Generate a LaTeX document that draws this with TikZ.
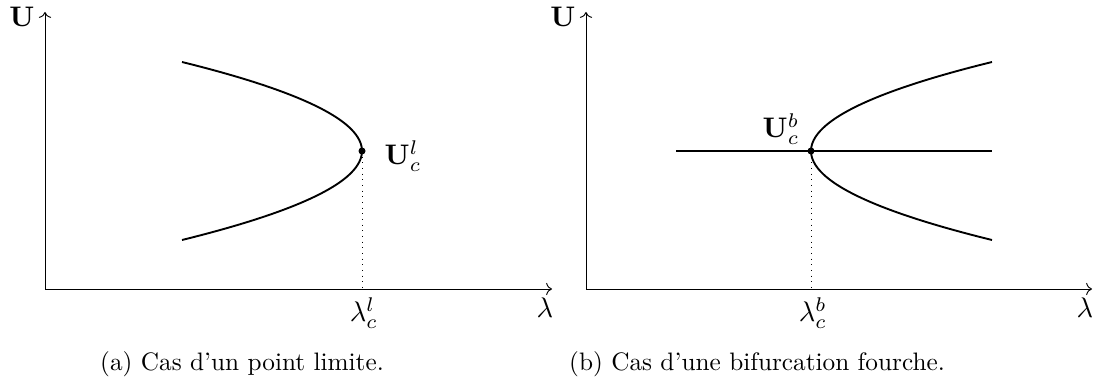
\documentclass[tikz,border=0pt]{standalone}
\usepackage{tikz}
\usetikzlibrary{arrows.meta}

\begin{document}
\begin{tikzpicture}[x=0.4237pt, y=-0.4237pt,
  lbl/.style={inner sep=0pt, scale=1.2},
  captxt/.style={inner sep=0pt, scale=1.07},
  branch/.style={line width=0.8pt}]
\path[use as bounding box] (0,0) rectangle (1101,387);
% (a) point limite
\coordinate (oa) at (45,289);
\coordinate (ya) at (45,12);
\coordinate (xa) at (552,289);
\coordinate (ca) at (362,289);
\coordinate (pta) at (362,151);
\draw[->] (oa) -- (ya);
\draw[->] (oa) -- (xa);
\node[lbl] (ua) at (22,17) {$\mathbf{U}$};
\node[lbl] (la) at (545,308) {$\lambda$};
\node[lbl] (lca) at (364,313) {$\lambda_c^l$};
\draw[branch] plot[domain=-89:89, smooth, samples=60] ({362-180*(\x/89)^2}, {151+\x});
\fill (pta) circle (3.5);
\node[lbl] (pa) at (403,156) {$\mathbf{U}_c^l$};
\draw[dotted] (pta) -- (ca);
\node[captxt] (capa) at (242,364) {(a) Cas d'un point limite.};
% (b) bifurcation fourche
\coordinate (ob) at (586,289);
\coordinate (yb) at (586,12);
\coordinate (xb) at (1092,289);
\coordinate (cb) at (811,289);
\coordinate (ptb) at (811,151);
\draw[->] (ob) -- (yb);
\draw[->] (ob) -- (xb);
\node[lbl] (ub) at (563,17) {$\mathbf{U}$};
\node[lbl] (lb) at (1085,308) {$\lambda$};
\node[lbl] (lcb) at (813,313) {$\lambda_c^b$};
\draw[branch] (676,151) -- (992,151);
\draw[branch] plot[domain=-89:89, smooth, samples=60] ({811+181*(\x/89)^2}, {151+\x});
\fill (ptb) circle (3.5);
\node[lbl] (pb) at (781,129) {$\mathbf{U}_c^b$};
\draw[dotted] (ptb) -- (cb);
\node[captxt] (capb) at (757,364) {(b) Cas d'une bifurcation fourche.};
\end{tikzpicture}
\end{document}
